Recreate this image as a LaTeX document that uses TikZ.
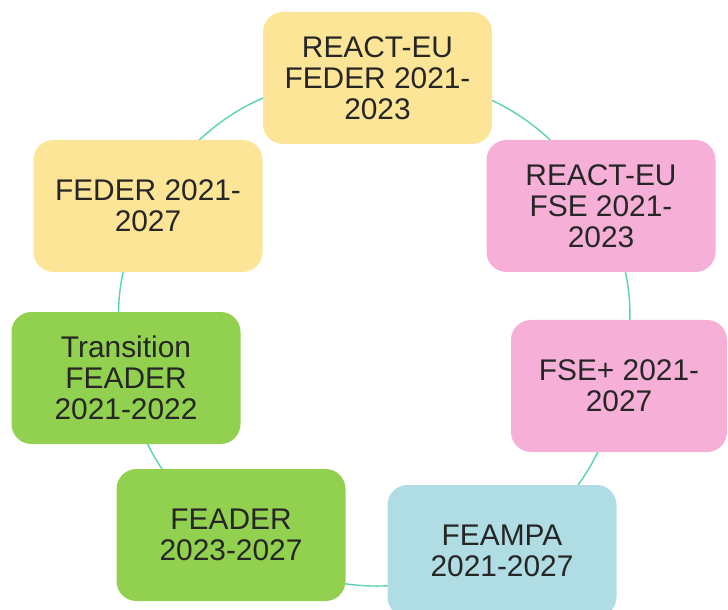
\documentclass[tikz,border=0pt]{standalone}
\usepackage{fontspec}
\setmainfont{Liberation Sans}
\usepackage{tikz}
\usetikzlibrary{backgrounds}
\definecolor{fyellow}{RGB}{252,229,150}
\definecolor{fpink}{RGB}{246,176,216}
\definecolor{fgreen}{RGB}{146,208,80}
\definecolor{fblue}{RGB}{176,221,228}
\definecolor{fring}{RGB}{90,210,180}
\tikzstyle{fund} = [rounded corners=0.4cm, minimum width=4.58cm, minimum height=2.64cm, align=center, text=black!85, font={\fontsize{17}{17.6}\selectfont}]
\tikzstyle{feder} = [fill=fyellow]
\tikzstyle{fse} = [fill=fpink]
\tikzstyle{feader} = [fill=fgreen]
\tikzstyle{feampa} = [fill=fblue]
\tikzstyle{ring} = [draw=fring, line width=0.8pt]

\begin{document}
\begin{tikzpicture}
    \useasboundingbox (0,0) rectangle (14.56,12.18);
    \node[fund,feder](0) at (7.55,10.62){REACT-EU\\FEDER 2021-\\2023};
    \node[fund,fse](1) at (12.02,8.06){REACT-EU\\FSE 2021-\\2023};
    \node[fund,fse,minimum width=4.32cm](2) at (12.38,4.46){FSE+ 2021-\\2027};
    \node[fund,feampa](3) at (10.04,1.16){FEAMPA\\2021-2027};
    \node[fund,feader](4) at (4.62,1.48){FEADER\\2023-2027};
    \node[fund,feader](5) at (2.52,4.62){Transition\\FEADER\\2021-2022};
    \node[fund,feder](6) at (2.96,8.06){FEDER 2021-\\2027};
    \begin{scope}[on background layer]
    \draw[ring](0.center)to[bend left=30.5](1.center);
    \draw[ring](1.center)to[bend left=21](2.center);
    \draw[ring](2.center)to[bend left=23.7](3.center);
    \draw[ring](3.center)to[bend left=32.5](4.center);
    \draw[ring](4.center)to[bend left=21.9](5.center);
    \draw[ring](5.center)to[bend left=19.6](6.center);
    \draw[ring](6.center)to[bend left=30.8](0.center);
    \end{scope}
  \end{tikzpicture}
\end{document}
